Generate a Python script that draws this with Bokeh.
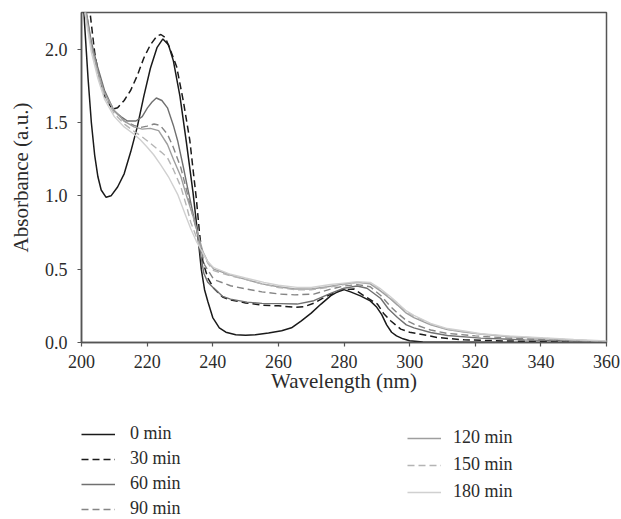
from bokeh.plotting import figure
from bokeh.layouts import column
from bokeh.models import Range1d, FixedTicker, Legend, LegendItem, PrintfTickFormatter
from bokeh.embed import file_html
from bokeh.resources import INLINE

# ---- data ----
labels = ["0 min", "30 min", "60 min", "90 min", "120 min", "150 min", "180 min"]

x_0 = [200, 201, 202, 203, 204, 205, 206, 207.5, 209, 211, 213, 215, 217, 219, 221, 223, 224.8,
       226.5, 228, 230, 232, 234, 235.5, 236.5, 237.5, 238.5, 240, 242, 244, 247, 250, 253, 257,
       261, 264, 267, 270, 273, 276, 279.5, 282, 285, 288, 290, 291.5, 293, 294.5, 296, 298, 300,
       304, 310, 320, 360]
y_0 = [2.55, 2.15, 1.8, 1.5, 1.28, 1.13, 1.04, 0.99, 1.0, 1.06, 1.15, 1.3, 1.47, 1.68, 1.87, 2.01,
       2.07, 2.03, 1.92, 1.68, 1.36, 1.02, 0.72, 0.5, 0.36, 0.28, 0.17, 0.1, 0.07, 0.053, 0.05,
       0.053, 0.065, 0.08, 0.1, 0.148, 0.2, 0.262, 0.32, 0.364, 0.345, 0.318, 0.284, 0.24, 0.19,
       0.12, 0.07, 0.045, 0.025, 0.012, 0.004, 0.002, 0.001, 0.0]

x_30 = [201, 202.6, 204, 205, 207, 209.4, 211, 213, 215, 217, 219, 221, 223, 224.2, 225.5, 227,
        229, 231, 233, 235, 236, 237, 238.5, 240.3, 243, 245.4, 250, 255, 260, 265, 268, 271, 275,
        280, 283, 286, 290.2, 292, 294.2, 297.3, 300, 303.4, 308.5, 316.6, 330, 345, 360]
y_30 = [2.45, 2.25, 1.98, 1.85, 1.68, 1.59, 1.6, 1.65, 1.72, 1.82, 1.94, 2.03, 2.09, 2.10, 2.08,
        2.0, 1.88, 1.65, 1.38, 0.98, 0.74, 0.55, 0.44, 0.37, 0.31, 0.29, 0.27, 0.255, 0.25, 0.24,
        0.245, 0.27, 0.32, 0.36, 0.365, 0.32, 0.262, 0.2, 0.148, 0.091, 0.07, 0.057, 0.034, 0.018,
        0.01, 0.005, 0.002]

x_60 = [200, 201.5, 203, 204.9, 207, 209.9, 212, 214, 216.6, 218.5, 220.1, 221.5, 222.8, 224.5,
        226.2, 228, 229.3, 231, 232.3, 234, 235.4, 236.3, 237.3, 238.5, 240.3, 243, 245.4, 250.4,
        255, 260.6, 265.7, 270.8, 275.9, 280, 284, 287, 291.2, 293.5, 296.3, 299, 301.3, 306.4,
        311.5, 321.7, 335, 350, 360]
y_60 = [2.45, 2.25, 2.05, 1.88, 1.72, 1.58, 1.54, 1.51, 1.51, 1.54, 1.60, 1.64, 1.667, 1.65, 1.60,
        1.48, 1.376, 1.2, 1.057, 0.88, 0.74, 0.6, 0.47, 0.41, 0.37, 0.315, 0.296, 0.275, 0.267,
        0.265, 0.262, 0.285, 0.335, 0.37, 0.385, 0.37, 0.3, 0.23, 0.17, 0.12, 0.1, 0.068, 0.048,
        0.03, 0.018, 0.01, 0.005]

x_90 = [200, 201.5, 203, 205, 207, 210, 213, 216, 218.1, 220, 222.1, 224, 226.2, 228, 230.3, 232,
        233.3, 235, 236.3, 237.5, 240.3, 245.4, 250.4, 255, 260.6, 265, 270.8, 275.9, 280, 284,
        288, 291.2, 294, 296.3, 299, 301.3, 306.4, 311.5, 320, 330, 345, 360]
y_90 = [2.45, 2.25, 2.03, 1.85, 1.7, 1.58, 1.51, 1.48, 1.467, 1.475, 1.49, 1.48, 1.42, 1.33, 1.19,
        1.04, 0.92, 0.77, 0.65, 0.53, 0.43, 0.387, 0.364, 0.345, 0.33, 0.325, 0.33, 0.364, 0.385,
        0.395, 0.38, 0.32, 0.25, 0.2, 0.15, 0.125, 0.085, 0.062, 0.045, 0.03, 0.015, 0.005]

x_120 = [200, 201.3, 203, 205, 207, 210, 213, 216, 218.5, 221, 223.5, 226.2, 228, 230.3, 232, 234,
         235.5, 237, 238.5, 240.3, 245.4, 250, 255, 260, 265, 270, 275, 280, 284, 288, 291.2, 294,
         296.3, 299, 301.3, 306.4, 311.5, 316.6, 321.7, 330, 340, 350, 360]
y_120 = [2.42, 2.25, 2.02, 1.84, 1.7, 1.58, 1.51, 1.47, 1.455, 1.46, 1.445, 1.35, 1.25, 1.13, 1.0,
         0.86, 0.74, 0.62, 0.55, 0.5, 0.46, 0.43, 0.40, 0.38, 0.365, 0.365, 0.38, 0.4, 0.41, 0.4,
         0.35, 0.3, 0.255, 0.2, 0.17, 0.12, 0.088, 0.072, 0.057, 0.04, 0.028, 0.015, 0.008]

x_150 = [200, 201.2, 203, 205, 207, 210, 213, 216, 218, 220, 222, 224.2, 226.2, 228, 230.3, 232,
         233.3, 235, 236.5, 238.5, 240.3, 245.4, 250, 255, 260, 265, 270, 275, 280, 284, 288,
         291.2, 294, 296.3, 299, 301.3, 306.4, 311.5, 316.6, 321.7, 330, 340, 350, 360]
y_150 = [2.4, 2.25, 2.0, 1.82, 1.68, 1.56, 1.49, 1.44, 1.41, 1.376, 1.34, 1.3, 1.26, 1.18, 1.06,
         0.93, 0.82, 0.72, 0.63, 0.54, 0.49, 0.455, 0.43, 0.40, 0.375, 0.36, 0.36, 0.375, 0.395,
         0.41, 0.405, 0.36, 0.31, 0.265, 0.21, 0.18, 0.125, 0.09, 0.073, 0.057, 0.042, 0.03,
         0.017, 0.008]

x_180 = [200, 201, 203, 205, 207, 210, 213, 216, 218, 220.1, 222, 224.2, 226.5, 229.3, 231.5,
         233.3, 235, 236.8, 238.5, 240.3, 245.4, 250, 255.6, 260, 265.7, 270, 275.9, 280, 284, 288,
         291.2, 294, 296.3, 299, 301.3, 306.4, 311.5, 316.6, 321.7, 330, 340, 350, 360]
y_180 = [2.38, 2.25, 1.98, 1.8, 1.66, 1.54, 1.47, 1.42, 1.38, 1.33, 1.28, 1.21, 1.13, 1.01, 0.88,
         0.775, 0.69, 0.62, 0.55, 0.51, 0.465, 0.44, 0.41, 0.39, 0.376, 0.375, 0.395, 0.405, 0.415,
         0.41, 0.365, 0.315, 0.27, 0.215, 0.185, 0.13, 0.095, 0.078, 0.06, 0.045, 0.032, 0.02, 0.01]

x_ticks = [200, 220, 240, 260, 280, 300, 320, 340, 360]
y_ticks = [0.0, 0.5, 1.0, 1.5, 2.0]

series = [(x_0, y_0), (x_30, y_30), (x_60, y_60), (x_90, y_90),
          (x_120, y_120), (x_150, y_150), (x_180, y_180)]
colors = ["#1a1a1a", "#1a1a1a", "#707070", "#858585", "#9e9e9e", "#b4b4b4", "#d0d0d0"]
dashes = ["solid", "7 4", "solid", "7 4", "solid", "7 4", "solid"]
widths = [1.5, 1.5, 1.4, 1.4, 1.4, 1.4, 1.4]

FONT = "Liberation Serif"
TXT = "#2b2b2b"

# ---- main chart ----
p = figure(width=621, height=404, output_backend="svg", toolbar_location=None,
           x_range=Range1d(200, 360), y_range=Range1d(0, 2.25),
           min_border_left=81, min_border_right=15, min_border_top=12, min_border_bottom=62)
p.xgrid.visible = False
p.ygrid.visible = False
p.background_fill_color = "white"
p.border_fill_color = "white"
p.outline_line_color = "#555555"
p.outline_line_width = 1.5
p.outline_line_alpha = 1.0

for ax in (p.xaxis[0], p.yaxis[0]):
    ax.axis_line_color = "#555555"
    ax.axis_line_width = 1.5
    ax.major_tick_line_color = "#555555"
    ax.major_tick_line_width = 1.2
    ax.major_tick_in = 0
    ax.major_tick_out = 4
    ax.minor_tick_line_color = None
    ax.major_label_text_font = FONT
    ax.major_label_text_font_size = "18px"
    ax.major_label_text_color = TXT
    ax.axis_label_text_font = FONT
    ax.axis_label_text_font_size = "21px"
    ax.axis_label_text_font_style = "normal"
    ax.axis_label_text_color = TXT

p.xaxis[0].ticker = FixedTicker(ticks=x_ticks)
p.yaxis[0].ticker = FixedTicker(ticks=y_ticks)
p.yaxis[0].formatter = PrintfTickFormatter(format="%.1f")
p.xaxis[0].axis_label = "Wavelength (nm)"
p.yaxis[0].axis_label = "Absorbance (a.u.)"
p.xaxis[0].major_label_standoff = 8
p.yaxis[0].major_label_standoff = 10
p.xaxis[0].axis_label_standoff = -2
p.yaxis[0].axis_label_standoff = 9

for (xs, ys), c, d, w in zip(series, colors, dashes, widths):
    p.line(xs, ys, line_color=c, line_dash=d, line_width=w)

# ---- legend panel (below the chart) ----
q = figure(width=621, height=115, output_backend="svg", toolbar_location=None,
           x_range=Range1d(0, 1), y_range=Range1d(0, 1),
           x_axis_type=None, y_axis_type=None,
           min_border_left=81, min_border_right=15, min_border_top=0, min_border_bottom=0)
q.outline_line_color = None
q.xgrid.visible = False
q.ygrid.visible = False
q.background_fill_color = "white"
q.border_fill_color = "white"

NAN = float("nan")
leg_renderers = []
for c, d, w in zip(colors, dashes, widths):
    leg_renderers.append(q.line(x=[NAN], y=[NAN], line_color=c, line_dash=d, line_width=w))

def make_legend(idx, loc, spacing, standoff):
    return Legend(items=[LegendItem(label=labels[i], renderers=[leg_renderers[i]]) for i in idx],
                  location=loc, orientation="vertical", padding=0, margin=0,
                  border_line_color=None, background_fill_alpha=0,
                  glyph_width=34, glyph_height=20, label_height=20,
                  label_standoff=standoff, spacing=spacing,
                  label_text_font=FONT, label_text_font_size="18px",
                  label_text_color=TXT)

q.add_layout(make_legend([0, 1, 2, 3], (0, 0), 4, 15))
q.add_layout(make_legend([4, 5, 6], (326, 17), 6, 12))

open("out.html", "w").write(file_html(column(p, q, spacing=0), INLINE))
